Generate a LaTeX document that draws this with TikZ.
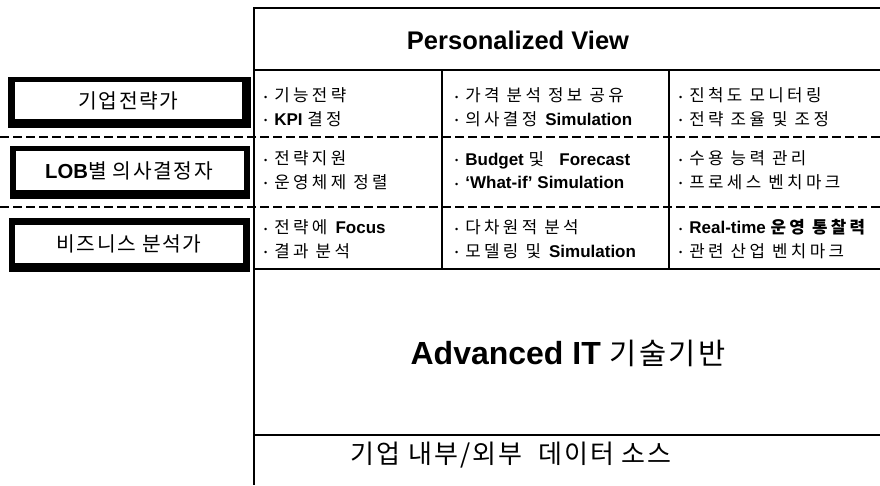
\documentclass[tikz,border=0pt]{standalone}
\usepackage{fontspec}
\setmainfont{Liberation Sans}
\newfontfamily\krg{Noto Sans CJK KR}[LetterSpace=20]
\newfontfamily\krb{Noto Sans CJK KR}[LetterSpace=8]
\newcommand\K[1]{{\krg\fontsize{16.8}{23.5}\selectfont #1}}
\newcommand\bul{\raisebox{1.5pt}{\fontsize{9}{9}\selectfont\textbullet}\hspace{7pt}}
\begin{document}
\begin{tikzpicture}[x=1pt,y=-1pt,line cap=butt,
  cell/.style={anchor=west,inner sep=0pt,align=left,font=\fontsize{17}{23.5}\selectfont},
  rolebox/.style={inner sep=0pt,font=\fontsize{20.3}{20.3}\selectfont},
  dashline/.style={line width=1.5pt,dash pattern=on 9pt off 4pt},
  thinline/.style={line width=1.2pt},
  gridline/.style={line width=1.6pt}]
\useasboundingbox (0,0) rectangle (880,485);
\fill[white] (0,0) rectangle (880,485);
% frame coordinates
\coordinate (tl) at (254,8);
\coordinate (tr) at (880,8);
\coordinate (bl) at (254,485);
\coordinate (hl) at (254,70);
\coordinate (hr) at (880,70);
\coordinate (d1l) at (0,137);
\coordinate (d1r) at (880,137);
\coordinate (d2l) at (0,207);
\coordinate (d2r) at (880,207);
\coordinate (gbl) at (254,269);
\coordinate (gbr) at (880,269);
\coordinate (c1t) at (442,70);
\coordinate (c1b) at (442,269);
\coordinate (c2t) at (669,70);
\coordinate (c2b) at (669,269);
\coordinate (sl) at (254,435);
\coordinate (sr) at (880,435);
% left role boxes
\fill (8,77) rectangle (251,128);
\fill[white] (15,82) rectangle (242,119);
\fill (10,146) rectangle (250,199);
\fill[white] (16,151) rectangle (244,190);
\fill (9,218) rectangle (250,272);
\fill[white] (15,225) rectangle (243,263);
% lines
\draw[thinline] (tr) -- (tl) -- (bl);
\draw[line width=2.6pt] (hl) -- (hr);
\draw[dashline] (d1l) -- (d1r);
\draw[dashline] (d2l) -- (d2r);
\draw[line width=2pt] (gbl) -- (gbr);
\draw[gridline] (c1t) -- (c1b);
\draw[gridline] (c2t) -- (c2b);
\draw[gridline] (sl) -- (sr);
% role texts
\node[rolebox] (r1) at (128.5,101) {\krb 기업전략가};
\node[rolebox] (r2) at (129,171) {\textbf{LOB}{\krb 별 의사결정자}};
\node[rolebox] (r3) at (129,244) {\krb 비즈니스 분석가};
% header
\node[inner sep=0pt,font=\fontsize{25.5}{25.5}\selectfont\bfseries] (pv) at (518,40) {Personalized View};
% grid cells
\node[cell] (a1) at (264,107) {\bul\K{기능전략}\\\bul\textbf{KPI} \K{결정}};
\node[cell] (b1) at (455,107) {\bul\K{가격 분석 정보 공유}\\\bul\K{의사결정} \textbf{Simulation}};
\node[cell] (c1) at (679,107) {\bul\K{진척도 모니터링}\\\bul\K{전략 조율 및 조정}};
\node[cell] (a2) at (264,170) {\bul\K{전략지원}\\\bul\K{운영체제 정렬}};
\node[cell] (b2) at (455,170) {\bul\textbf{Budget} \K{및}\hspace{12pt}\textbf{Forecast}\\\bul\textbf{‘What-if’ Simulation}};
\node[cell] (c2) at (679,170) {\bul\K{수용 능력 관리}\\\bul\K{프로세스 벤치마크}};
\node[cell] (a3) at (264,239) {\bul\K{전략에} \textbf{Focus}\\\bul\K{결과 분석}};
\node[cell] (b3) at (455,239) {\bul\K{다차원적 분석}\\\bul\K{모델링 및} \textbf{Simulation}};
\node[cell] (c3) at (679,239) {\bul\textbf{Real-time} \K{\bfseries 운영 통찰력}\\\bul\K{관련 산업 벤치마크}};
% base layers
\node[inner sep=0pt,font=\fontsize{32}{32}\selectfont] (it) at (568,353) {\textbf{Advanced IT} {\krb\fontsize{29.5}{29.5}\selectfont 기술기반}};
\node[inner sep=0pt,font=\fontsize{26}{26}\selectfont] (ds) at (511,455) {\krb 기업 내부/외부\ \ 데이터 소스};
\end{tikzpicture}
\end{document}
